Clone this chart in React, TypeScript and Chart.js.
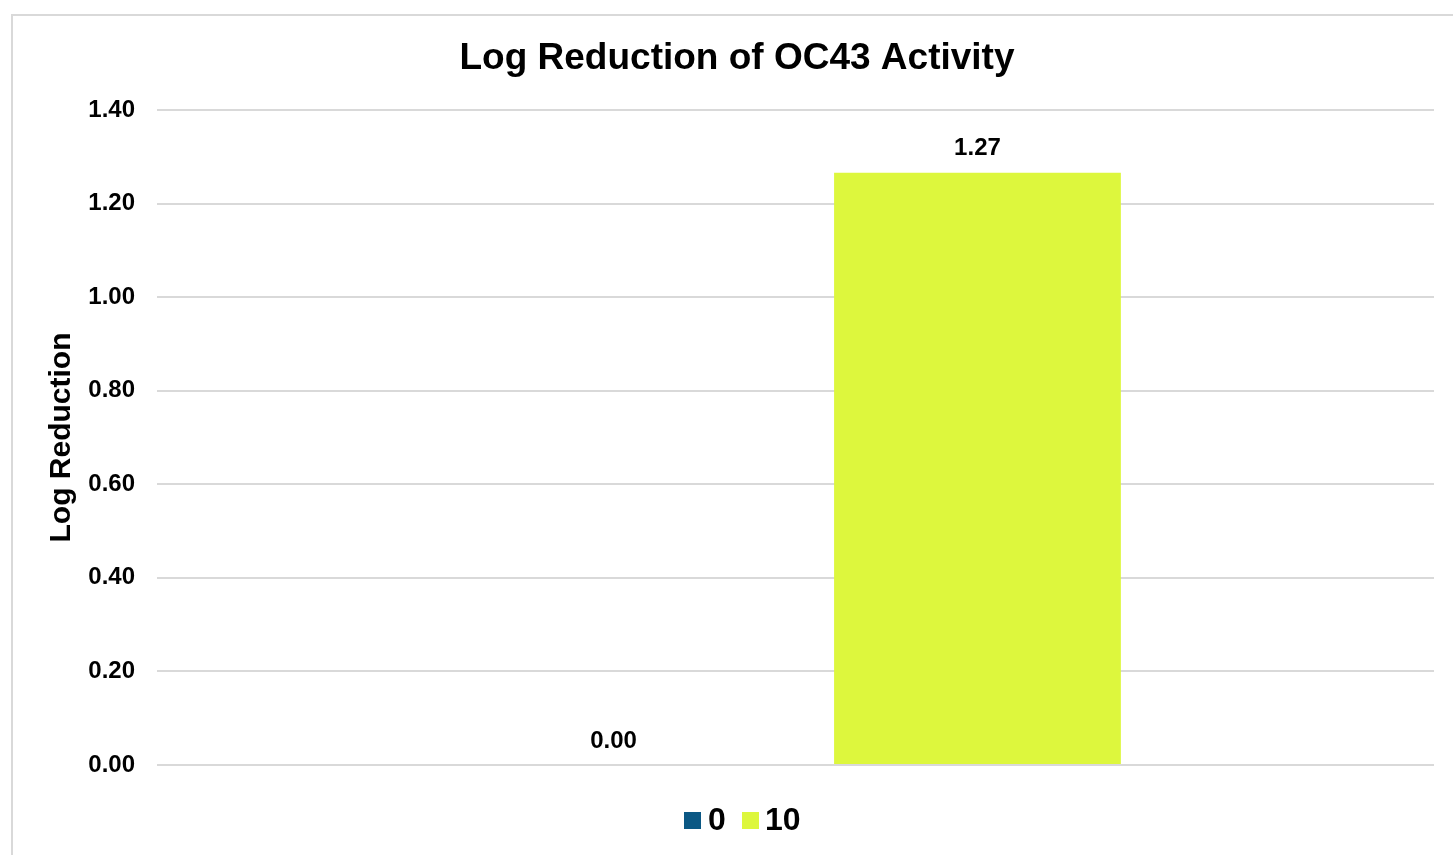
import React, { useEffect, useRef } from "react";
import { Chart, registerables } from "chart.js";

Chart.register(...registerables);

const categories: string[] = [""];
const seriesNames: string[] = ["0", "10"];
const series0: number[] = [0];
const series10: number[] = [1.266];
const seriesColors: string[] = ["#0b5884", "#ddf73d"];
const yTicks: number[] = [0, 0.2, 0.4, 0.6, 0.8, 1.0, 1.2, 1.4];

const FONT = "'Liberation Sans', Arial, Helvetica, sans-serif";

const dataLabelPlugin = {
  id: "dataLabels",
  afterDatasetsDraw(chart: any) {
    const ctx = chart.ctx;
    ctx.save();
    ctx.font = `bold 24px ${FONT}`;
    ctx.fillStyle = "#000000";
    ctx.textAlign = "center";
    ctx.textBaseline = "middle";
    chart.data.datasets.forEach((ds: any, i: number) => {
      const meta = chart.getDatasetMeta(i);
      meta.data.forEach((el: any, j: number) => {
        const v = ds.data[j] as number;
        ctx.fillText(v.toFixed(2), el.x, el.y - 24);
      });
    });
    ctx.restore();
  },
};

export default function App() {
  const ref = useRef<HTMLCanvasElement | null>(null);

  useEffect(() => {
    if (!ref.current) return;
    const chart = new Chart(ref.current, {
      type: "bar",
      data: {
        labels: categories,
        datasets: [
          {
            label: seriesNames[0],
            data: series0,
            backgroundColor: seriesColors[0],
            categoryPercentage: 0.57,
            barPercentage: 0.788,
          },
          {
            label: seriesNames[1],
            data: series10,
            backgroundColor: seriesColors[1],
            categoryPercentage: 0.57,
            barPercentage: 0.788,
          },
        ],
      },
      options: {
        responsive: false,
        animation: false,
        devicePixelRatio: 1,
        layout: { padding: { left: 0, right: 0, top: 0, bottom: 90 } },
        plugins: {
          legend: { display: false },
          tooltip: { enabled: false },
          title: {
            display: true,
            text: "Log Reduction of OC43 Activity",
            color: "#000000",
            font: { family: FONT, size: 37, weight: "bold" },
            padding: { top: 37, bottom: 28.6 },
          },
        },
        scales: {
          x: { display: false },
          y: {
            min: 0,
            max: 1.4,
            afterFit(scale: any) {
              scale.width = 157;
            },
            afterBuildTicks(scale: any) {
              scale.ticks = yTicks.map((v) => ({ value: v }));
            },
            border: { display: false },
            grid: { color: "#d9d9d9", lineWidth: 2, drawTicks: false },
            ticks: {
              padding: 22,
              color: "#000000",
              font: { family: FONT, size: 24, weight: "bold" },
              callback: (v: any) => Number(v).toFixed(2),
            },
            title: {
              display: true,
              text: "Log Reduction",
              color: "#000000",
              font: { family: FONT, size: 30, weight: "bold" },
              padding: { top: 44, bottom: 0 },
            },
          },
          yRight: {
            position: "right",
            min: 0,
            max: 1.4,
            afterFit(scale: any) {
              scale.width = 40;
            },
            border: { display: false },
            grid: { display: false },
            ticks: { display: false },
          },
        },
      },
      plugins: [dataLabelPlugin],
    });
    return () => chart.destroy();
  }, []);

  const legendText: React.CSSProperties = {
    position: "absolute",
    top: 803,
    fontFamily: FONT,
    fontWeight: "bold",
    fontSize: 32,
    lineHeight: "32px",
    color: "#000000",
    whiteSpace: "nowrap",
  };

  return (
    <div
      style={{
        position: "fixed",
        left: 0,
        top: 0,
        width: 1453,
        height: 855,
        overflow: "hidden",
        background: "#ffffff",
      }}
    >
      <div
        style={{
          position: "absolute",
          left: 11,
          top: 14,
          width: 1500,
          height: 900,
          border: "2px solid #d9d9d9",
          boxSizing: "border-box",
        }}
      />
      <canvas
        ref={ref}
        width={1474}
        height={855}
        style={{ position: "absolute", left: 0, top: 0, width: 1474, height: 855 }}
      />
      <div
        style={{
          position: "absolute",
          left: 684,
          top: 812,
          width: 17,
          height: 17,
          background: seriesColors[0],
        }}
      />
      <div style={{ ...legendText, left: 708 }}>{seriesNames[0]}</div>
      <div
        style={{
          position: "absolute",
          left: 742,
          top: 812,
          width: 17,
          height: 17,
          background: seriesColors[1],
        }}
      />
      <div style={{ ...legendText, left: 765 }}>{seriesNames[1]}</div>
    </div>
  );
}
